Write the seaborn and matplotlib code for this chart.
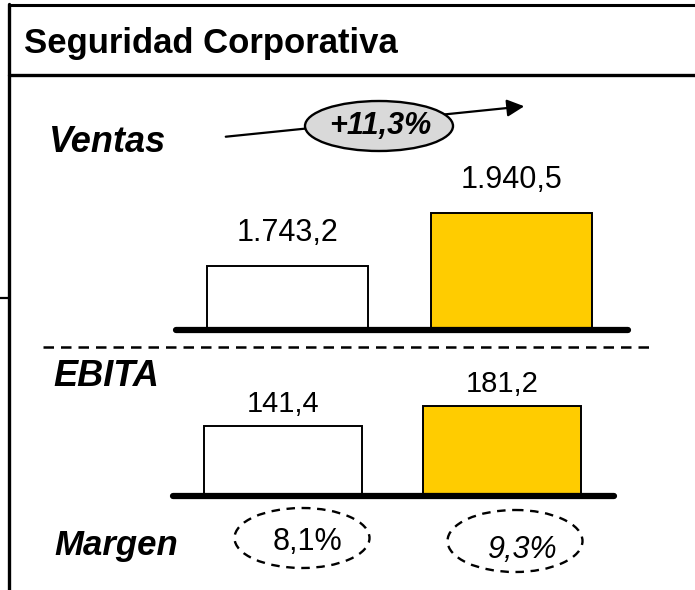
import matplotlib
matplotlib.use("Agg")
import matplotlib.pyplot as plt
import seaborn as sns
from matplotlib.patches import Ellipse

# --- data ---
periods = ["Anterior", "Actual"]
ventas = [1743.2, 1940.5]
ebita = [141.4, 181.2]
margen = [8.1, 9.3]
crecimiento = 11.3
bar_colors = ["#FFFFFF", "#FFCC00"]

titulo = "Seguridad Corporativa"
etiquetas = ["Ventas", "EBITA", "Margen"]

W, H = 695, 590


def es_num(v, dec=1):
    # Spanish number style: 1.743,2
    s = f"{v:,.{dec}f}"
    return s.replace(",", "X").replace(".", ",").replace("X", ".")


def px_axes(fig, left, top, width, height):
    return fig.add_axes([left / W, 1 - (top + height) / H, width / W, height / H])


sns.set_theme(style="white")
plt.rcParams["font.family"] = ["Liberation Sans", "DejaVu Sans"]
plt.rcParams["text.color"] = "black"

fig = plt.figure(figsize=(W / 100, H / 100), dpi=100)

# overlay in pixel coordinates for frame and annotations
ov = fig.add_axes([0, 0, 1, 1])
ov.set_xlim(0, W)
ov.set_ylim(H, 0)
ov.axis("off")

# header frame
ov.plot([9, W + 5], [5, 5], color="black", lw=2.2)
ov.plot([9, W + 5], [75, 75], color="black", lw=2.4)
ov.plot([9, 9], [4, H + 5], color="black", lw=2.4)
ov.plot([0, 9], [298, 298], color="black", lw=1.6)
ov.text(24, 43, titulo, fontsize=25, fontweight="bold", va="center", ha="left")

# section labels
ov.text(49, 143, etiquetas[0], fontsize=26, fontweight="bold", style="italic", va="center")
ov.text(53, 376, etiquetas[1], fontsize=26, fontweight="bold", style="italic", va="center")
ov.text(54, 546, etiquetas[2], fontsize=25, fontweight="bold", style="italic", va="center")

# dashed separator
ov.plot([43, 650], [347, 347], color="black", lw=1.8, linestyle=(0, (4.2, 2.8)))

# growth arrow with ellipse
ov.annotate("", xy=(527, 106), xytext=(223, 137),
            arrowprops=dict(arrowstyle="-|>", color="black", lw=1.6, mutation_scale=26))
ov.add_patch(Ellipse((379, 126), 148, 50, facecolor="#D9D9D9", edgecolor="black", lw=1.7, zorder=3))
ov.text(380, 126, "+" + es_num(crecimiento) + "%", fontsize=22, fontweight="bold",
        style="italic", ha="center", va="center", zorder=4)

# margin ellipses
margin_pos = [(302, 538, 135, 60, "normal"), (515, 541, 135, 62, "italic")]
for m, (cx, cy, ew, eh, st) in zip(margen, margin_pos):
    ov.add_patch(Ellipse((cx, cy), ew, eh, facecolor="none", edgecolor="black",
                         lw=1.7, linestyle=(0, (3.6, 2.8))))
    ov.text(cx + (5 if st == "normal" else 8), cy + (4 if st == "normal" else 9),
            es_num(m) + "%", fontsize=22, style=st, ha="center", va="center")


def bar_panel(ax, values, ymin, ymax, pad, xmax, fs):
    sns.barplot(x=periods, y=values, hue=periods, palette=bar_colors, legend=False,
                saturation=1, edgecolor="black", linewidth=1.4, width=0.72, ax=ax)
    ax.set_xlim(-0.5, xmax)
    ax.set_ylim(ymin, ymax)
    ax.axis("off")
    ax.axhline(ymin, color="black", lw=4.5, solid_capstyle="round", clip_on=False, zorder=5)
    for cont in ax.containers:
        ax.bar_label(cont, labels=[es_num(v) for v in cont.datavalues],
                     padding=pad, fontsize=fs, color="black")


# Ventas panel: baseline y=330, axis not starting at zero
ax1 = px_axes(fig, 176, 150, 452, 180)
bar_panel(ax1, ventas, 1505, 1505 + 180 / 0.2686, 13, 1.52, 22)

# EBITA panel: baseline y=496, from zero
ax2 = px_axes(fig, 173, 360, 441, 136)
bar_panel(ax2, ebita, 0, 136 / 0.495, 6, 1.51, 21)

fig.savefig("out.png", dpi=100)
